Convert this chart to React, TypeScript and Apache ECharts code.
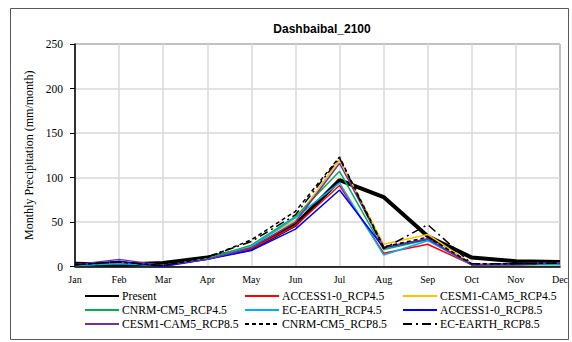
import React, { useEffect, useRef } from "react";
import * as echarts from "echarts";

const months = ["Jan", "Feb", "Mar", "Apr", "May", "Jun", "Jul", "Aug", "Sep", "Oct", "Nov", "Dec"];
const yTicks = [0, 50, 100, 150, 200, 250];

const present = [3, 2, 4, 10, 20, 47, 97, 78, 34, 10, 6, 5];
const access45 = [2, 5, 1, 8, 20, 46, 91, 15, 25, 2, 2, 3];
const cesm45 = [2, 5, 1, 9, 23, 52, 120, 25, 36, 3, 3, 4];
const cnrm45 = [1, 4, 1, 9, 24, 56, 107, 19, 30, 2, 2, 2];
const ec45 = [1, 3, 1, 8, 22, 55, 94, 13, 29, 2, 2, 3];
const access85 = [2, 6, 0, 8, 18, 42, 86, 21, 31, 2, 3, 4];
const cesm85 = [2, 8, 1, 8, 21, 50, 116, 22, 31, 2, 2, 4];
const cnrm85 = [2, 5, 1, 10, 30, 62, 123, 22, 33, 3, 3, 4];
const ec85 = [2, 5, 1, 11, 28, 58, 122, 20, 47, 3, 3, 4];

const seriesDefs = [
  { name: "Present", data: present, color: "#000000", width: 4, type: "solid" as any },
  { name: "ACCESS1-0_RCP4.5", data: access45, color: "#ff0000", width: 1.5, type: "solid" as any },
  { name: "CESM1-CAM5_RCP4.5", data: cesm45, color: "#ffc000", width: 1.5, type: "solid" as any },
  { name: "CNRM-CM5_RCP4.5", data: cnrm45, color: "#00b050", width: 1.5, type: "solid" as any },
  { name: "EC-EARTH_RCP4.5", data: ec45, color: "#00b0f0", width: 1.5, type: "solid" as any },
  { name: "ACCESS1-0_RCP8.5", data: access85, color: "#0000ff", width: 1.5, type: "solid" as any },
  { name: "CESM1-CAM5_RCP8.5", data: cesm85, color: "#7030a0", width: 1.5, type: "solid" as any },
  { name: "CNRM-CM5_RCP8.5", data: cnrm85, color: "#000000", width: 1.5, type: [4, 3] as any },
  { name: "EC-EARTH_RCP8.5", data: ec85, color: "#000000", width: 1.5, type: [9, 4, 2, 4] as any },
];

const legendCols = [
  ["Present", "CNRM-CM5_RCP4.5", "CESM1-CAM5_RCP8.5"],
  ["ACCESS1-0_RCP4.5", "EC-EARTH_RCP4.5", "CNRM-CM5_RCP8.5"],
  ["CESM1-CAM5_RCP4.5", "ACCESS1-0_RCP8.5", "EC-EARTH_RCP8.5"],
];
const legendLefts = [84, 244, 402];

export default function App() {
  const ref = useRef<HTMLDivElement>(null);
  useEffect(() => {
    if (!ref.current) return;
    const chart = echarts.init(ref.current, undefined, { renderer: "svg" });
    const serif = "'Liberation Serif', 'Times New Roman', serif";
    chart.setOption({
      animation: false,
      backgroundColor: "#ffffff",
      title: {
        text: "Dashbaibal_2100",
        left: 317,
        top: 18,
        textAlign: "center",
        textStyle: { fontFamily: "'Liberation Sans', Arial, sans-serif", fontSize: 12, fontWeight: "bold", color: "#000" },
      },
      graphic: [
        {
          type: "rect",
          shape: { x: 10.5, y: 8.5, width: 558, height: 331 },
          style: { fill: "none", stroke: "#595959", lineWidth: 1 },
          silent: true,
          z: -1,
        },
      ],
      grid: {
        left: 75,
        right: 12,
        top: 44,
        bottom: 75.5,
        show: true,
        borderColor: "#000",
        borderWidth: 1,
        backgroundColor: "transparent",
      },
      legend: legendCols.map((col, i) => ({
        data: col,
        orient: "vertical",
        left: legendLefts[i],
        top: 290,
        padding: 0,
        itemWidth: 34,
        itemHeight: 14,
        itemGap: 2,
        itemStyle: { opacity: 0 },
        textStyle: { fontFamily: serif, fontSize: 11.7, color: "#000", padding: [0, 0, 0, -2] },
      })),
      xAxis: {
        type: "category",
        data: months,
        boundaryGap: false,
        axisLine: { lineStyle: { color: "#000", width: 1.5 } },
        axisTick: { show: false },
        axisLabel: { fontFamily: serif, fontSize: 10, color: "#000", margin: 8 },
        splitLine: { show: true, lineStyle: { color: "#d9d9d9", width: 1.5 } },
      },
      yAxis: {
        type: "value",
        min: 0,
        max: 250,
        interval: 50,
        name: "Monthly Precipitation (mm/month)",
        nameLocation: "middle",
        nameGap: 37,
        nameTextStyle: { fontFamily: serif, fontSize: 12, color: "#000" },
        axisLine: { show: true, lineStyle: { color: "#000", width: 1.5 } },
        axisTick: { show: true, inside: false, length: 5, lineStyle: { color: "#000" } },
        axisLabel: {
          fontFamily: serif,
          fontSize: 11.5,
          color: "#000",
          margin: 12,
          formatter: (v: number) => (yTicks.includes(v) ? String(v) : ""),
        },
        splitLine: { show: true, lineStyle: { color: "#d9d9d9", width: 1.5 } },
      },
      series: seriesDefs.map((s) => ({
        name: s.name,
        type: "line",
        data: s.data,
        symbol: "none",
        showSymbol: false,
        color: s.color,
        lineStyle: { color: s.color, width: s.width, type: s.type },
        emphasis: { disabled: true },
      })),
    });
    return () => chart.dispose();
  }, []);
  return <div ref={ref} style={{ position: "fixed", left: 0, top: 0, width: 572, height: 342 }} />;
}
